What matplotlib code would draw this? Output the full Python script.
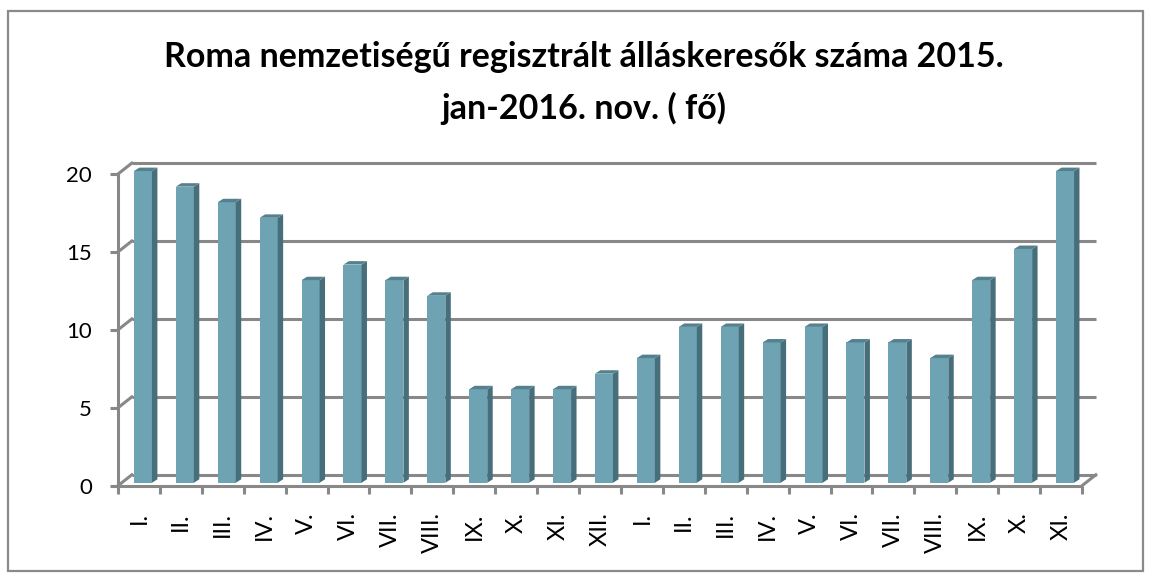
import numpy as np
import matplotlib.pyplot as plt
from matplotlib.patches import Polygon, Rectangle

months = ["I.", "II.", "III.", "IV.", "V.", "VI.", "VII.", "VIII.", "IX.", "X.", "XI.", "XII.",
          "I.", "II.", "III.", "IV.", "V.", "VI.", "VII.", "VIII.", "IX.", "X.", "XI."]
values = [20, 19, 18, 17, 13, 14, 13, 12, 6, 6, 6, 7,
          8, 10, 10, 9, 10, 9, 9, 8, 13, 15, 20]
yticks = [0, 5, 10, 15, 20]
title_lines = ["Roma nemzetiségű regisztrált álláskeresők száma 2015.",
               "jan-2016. nov. ( fő)"]

FONT = ["Lato", "DejaVu Sans"]
GRID = "#888888"
FRONT = "#6ea3b3"
SIDE = "#466f7b"
TOP = "#55808d"

W, H = 1151, 579
fig = plt.figure(figsize=(W / 100, H / 100), dpi=100)
fig.patch.set_facecolor("white")

# outer chart border
fig.add_artist(Rectangle((8 / W, 1 - 571 / H), 1135 / W, 560 / H, transform=fig.transFigure,
                         fill=False, edgecolor="#8a8a8a", linewidth=1.6))

# front plane of the 3d box
ax = fig.add_axes([118 / W, 1 - 485.7 / H, 964 / W, 311.7 / H])
n = len(values)
ax.set_xlim(0, n)
ax.set_ylim(0, 20)
for s in ax.spines.values():
    s.set_visible(False)
ax.patch.set_visible(False)

# depth offsets in data units
dx, dy = 0.33, 0.70        # back wall
bx, by = 0.095, 0.19       # bar front plane
sx, sy = 0.13, 0.22        # bar depth
bw = 0.43

lw = 2.2
# back wall gridlines + diagonal connectors
for t in yticks:
    ax.plot([dx, n + dx], [t + dy, t + dy], color=GRID, lw=lw, clip_on=False, zorder=1,
            solid_capstyle="butt")
    ax.plot([0, dx], [t, t + dy], color=GRID, lw=lw, clip_on=False, zorder=1)
# front axis and floor front edge
ax.plot([0, 0], [0, 20], color=GRID, lw=lw, clip_on=False, zorder=1)
ax.plot([0, n], [0, 0], color=GRID, lw=lw, clip_on=False, zorder=4, solid_capstyle="butt")
ax.plot([n, n + dx], [0, dy], color=GRID, lw=lw, clip_on=False, zorder=4)

# bars
xs = np.arange(n) + 0.5 + bx
ax.bar(xs, values, width=bw, bottom=by, color=FRONT, zorder=3, clip_on=False)
for x, v in zip(xs, values):
    r = x + bw / 2
    l = x - bw / 2
    ax.add_patch(Polygon([(r, by), (r + sx, by + sy), (r + sx, by + v + sy), (r, by + v)],
                         closed=True, facecolor=SIDE, edgecolor="none", zorder=3, clip_on=False))
    ax.add_patch(Polygon([(l, by + v), (r, by + v), (r + sx, by + v + sy), (l + sx, by + v + sy)],
                         closed=True, facecolor=TOP, edgecolor="none", zorder=3, clip_on=False))

# ticks
ax.set_yticks(yticks)
ax.set_yticklabels([str(t) for t in yticks], fontfamily=FONT, fontsize=16)
ax.tick_params(axis="y", length=8 * 0.72, width=lw, color=GRID, pad=13, direction="out")
ax.set_xticks(np.arange(n + 1))
ax.set_xticklabels([])
ax.tick_params(axis="x", which="major", length=8 * 0.72, width=lw, color=GRID, direction="out")
ax.set_xticks(np.arange(n) + 0.5, minor=True)
ax.set_xticklabels(months, minor=True, rotation=90, fontfamily=FONT, fontsize=17)
ax.tick_params(axis="x", which="minor", length=0, pad=19)

# title, two lines
for line, base in zip(title_lines, [67, 119]):
    fig.text(584 / W, 1 - base / H, line, ha="center", va="baseline", fontfamily=FONT,
             fontweight="bold", fontsize=24.5)

fig.savefig("out.png", dpi=100)
